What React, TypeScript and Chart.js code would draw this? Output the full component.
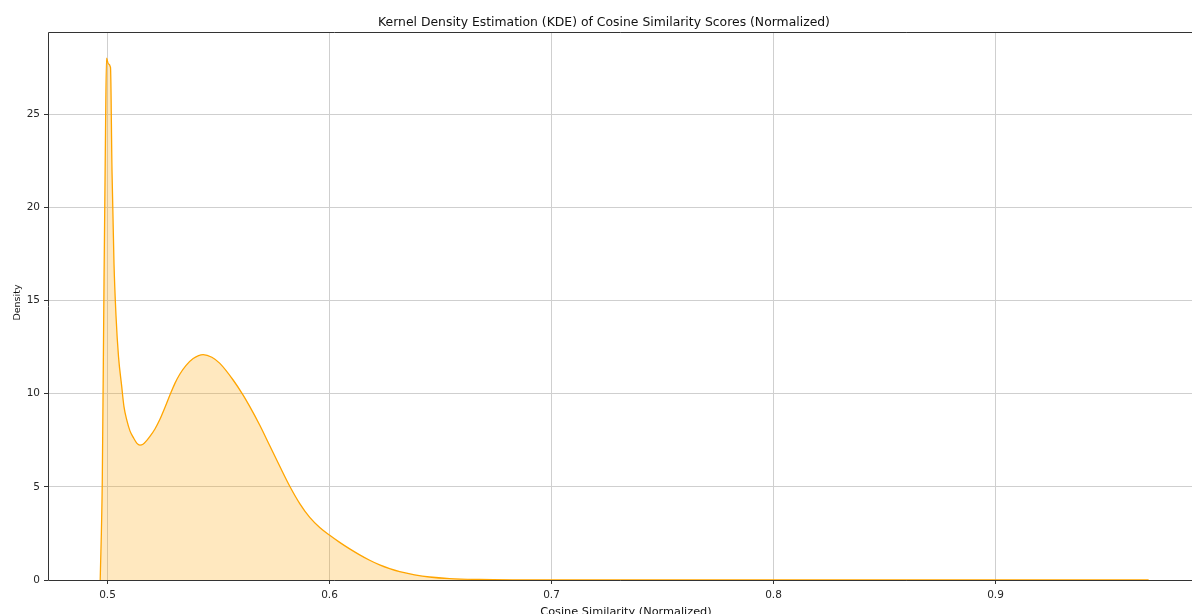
import React, { useEffect, useRef } from 'react';
import { Chart, registerables } from 'chart.js';

Chart.register(...registerables);

// Cosine similarity (normalized) sample positions
const similarity = [
  0.49672, 0.49766, 0.49843, 0.4991, 0.49955, 0.50036, 0.50135, 0.50202, 0.50292, 0.50382,
  0.50495, 0.50639, 0.50742, 0.50864, 0.51012, 0.51161, 0.51327, 0.51462, 0.51597, 0.51763,
  0.51912, 0.52137, 0.52362, 0.52587, 0.52812, 0.53037, 0.53262, 0.53531, 0.5386, 0.54309,
  0.54701, 0.55061, 0.55659, 0.56109, 0.56411, 0.56861, 0.5731, 0.5776, 0.5821, 0.5866,
  0.5911, 0.59559, 0.6001, 0.60459, 0.60909, 0.61359, 0.61809, 0.62259, 0.62708, 0.6316,
  0.63833, 0.64508, 0.65407, 0.66757, 0.68556, 0.70355, 0.74404, 0.81152, 0.90149, 0.96897,
];

// KDE density at each position
const density = [
  0.0, 5.4, 16.0, 24.0, 28.0, 27.7, 27.5, 22.0, 17.0, 14.2,
  12.0, 10.4, 9.3, 8.6, 8.0, 7.65, 7.33, 7.24, 7.28, 7.48,
  7.7, 8.1, 8.62, 9.25, 9.92, 10.55, 11.05, 11.5, 11.88, 12.09,
  11.95, 11.62, 10.73, 9.92, 9.3, 8.3, 7.2, 6.1, 5.03, 4.1,
  3.36, 2.82, 2.4, 2.02, 1.67, 1.35, 1.06, 0.81, 0.61, 0.45,
  0.28, 0.16, 0.075, 0.028, 0.008, 0.002, 0.0, 0.0, 0.0, 0.0,
];

const xTicks = [0.5, 0.6, 0.7, 0.8, 0.9];
const yTicks = [0, 5, 10, 15, 20, 25];

const chartTitle = 'Kernel Density Estimation (KDE) of Cosine Similarity Scores (Normalized)';
const xAxisLabel = 'Cosine Similarity (Normalized)';
const yAxisLabel = 'Density';

const FONT = 'DejaVu Sans';

const decorPlugin = {
  id: 'decor',
  afterDatasetsDraw(chart: any) {
    const { ctx, chartArea } = chart;
    const { left, top, right, bottom } = chartArea;
    ctx.save();
    ctx.strokeStyle = '#333333';
    ctx.lineWidth = 1;
    ctx.beginPath();
    ctx.moveTo(right, top + 0.5);
    ctx.lineTo(left + 0.5, top + 0.5);
    ctx.lineTo(left + 0.5, bottom + 0.5);
    ctx.lineTo(right, bottom + 0.5);
    ctx.stroke();
    ctx.restore();
  },
  afterDraw(chart: any) {
    const { ctx } = chart;
    ctx.save();
    ctx.fillStyle = '#111111';
    ctx.textAlign = 'center';
    ctx.textBaseline = 'alphabetic';
    // chart title
    ctx.font = `12.4px "${FONT}"`;
    ctx.fillText(chartTitle, 604, 25.5);
    // x axis label
    ctx.font = `11.3px "${FONT}"`;
    ctx.fillText(xAxisLabel, 626, 614.5);
    // y axis label
    ctx.font = `9.5px "${FONT}"`;
    ctx.translate(19.5, 302.5);
    ctx.rotate(-Math.PI / 2);
    ctx.fillText(yAxisLabel, 0, 0);
    ctx.restore();
  },
};

export default function App() {
  const canvasRef = useRef<HTMLCanvasElement | null>(null);

  useEffect(() => {
    document.body.style.margin = '0';
    document.body.style.overflow = 'hidden';
    const canvas = canvasRef.current;
    if (!canvas) return;
    const chart = new Chart(canvas, {
      type: 'line',
      data: {
        datasets: [
          {
            data: similarity.map((x, i) => ({ x, y: density[i] })),
            borderColor: '#FFA500',
            backgroundColor: 'rgba(255,165,0,0.25)',
            borderWidth: 1.3,
            fill: 'origin',
            pointRadius: 0,
            cubicInterpolationMode: 'monotone',
          },
        ],
      },
      options: {
        responsive: false,
        animation: false,
        devicePixelRatio: 1,
        layout: { padding: { left: 0, right: 0, top: 32, bottom: 0 } },
        plugins: {
          legend: { display: false },
          tooltip: { enabled: false },
          title: { display: false },
        },
        scales: {
          x: {
            type: 'linear',
            min: 0.4732,
            max: 0.9885,
            afterBuildTicks: (scale: any) => {
              scale.ticks = xTicks.map((v) => ({ value: v }));
            },
            afterFit: (scale: any) => {
              scale.height = 38;
            },
            ticks: {
              color: '#262626',
              font: { family: FONT, size: 10.5 },
              padding: 5,
              maxRotation: 0,
              autoSkip: false,
              callback: (v: any) => String(Number(v).toFixed(1)),
            },
            grid: {
              color: '#cfcfcf',
              lineWidth: 1,
              drawTicks: true,
              tickLength: 4,
              tickColor: '#333333',
              tickWidth: 1,
            },
            border: { display: false },
            title: { display: false },
          },
          y: {
            type: 'linear',
            min: 0,
            max: 29.4,
            afterBuildTicks: (scale: any) => {
              scale.ticks = yTicks.map((v) => ({ value: v }));
            },
            afterFit: (scale: any) => {
              scale.width = 48;
            },
            ticks: {
              color: '#262626',
              font: { family: FONT, size: 10.5 },
              padding: 4,
              callback: (v: any) => String(v),
            },
            grid: {
              color: '#cfcfcf',
              lineWidth: 1,
              drawTicks: true,
              tickLength: 4,
              tickColor: '#333333',
              tickWidth: 1,
            },
            border: { display: false },
            title: { display: false },
          },
        },
      },
      plugins: [decorPlugin],
    } as any);
    return () => chart.destroy();
  }, []);

  return (
    <div style={{ width: 1192, height: 614, overflow: 'hidden', position: 'relative' }}>
      <canvas ref={canvasRef} width={1192} height={618} style={{ display: 'block' }} />
    </div>
  );
}
